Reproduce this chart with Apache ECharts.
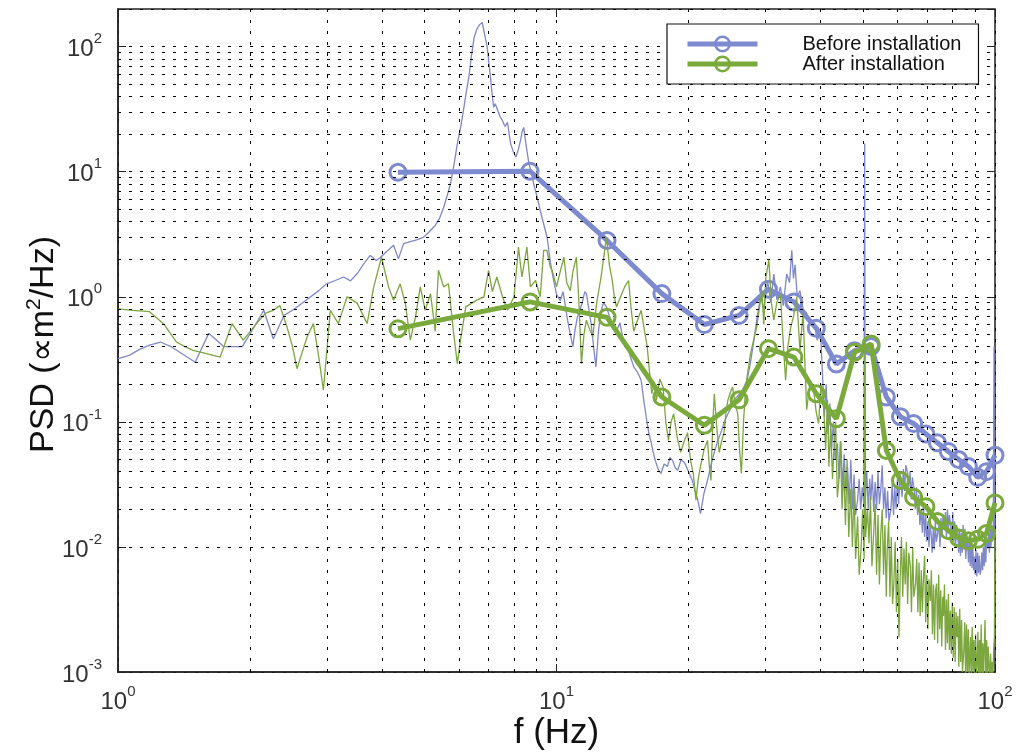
<!DOCTYPE html>
<html><head><meta charset="utf-8">
<script src="https://cdn.jsdelivr.net/npm/echarts@6/dist/echarts.min.js"></script>
<style>html,body{margin:0;padding:0;background:#fff}#c{width:1017px;height:756px}</style>
</head><body><div id="c"></div>
<script>
// ---- data ----
const bandFreq = [4.35, 8.70, 13.04, 17.39, 21.74, 26.09, 30.43, 34.78, 39.13, 43.48, 47.83, 52.17, 56.52, 60.87, 65.22, 69.57, 73.91, 78.26, 82.61, 86.96, 91.30, 95.65, 100.0];
const beforeBand = [9.9, 10.1, 2.82, 1.06, 0.60, 0.71, 1.15, 0.91, 0.56, 0.29, 0.37, 0.40, 0.158, 0.110, 0.097, 0.080, 0.068, 0.058, 0.050, 0.044, 0.036, 0.040, 0.054];
const afterBand = [0.556, 0.91, 0.685, 0.158, 0.094, 0.150, 0.385, 0.33, 0.168, 0.106, 0.36, 0.42, 0.059, 0.034, 0.025, 0.021, 0.016, 0.0135, 0.0118, 0.0112, 0.0115, 0.0128, 0.0225];

const beforeRaw = [
[1.00,0.32],[1.06,0.34],[1.12,0.38],[1.18,0.41],[1.25,0.435],[1.32,0.40],[1.40,0.35],[1.50,0.30],[1.61,0.51],[1.68,0.45],[1.74,0.40],[1.83,0.40],[1.92,0.40],[2.03,0.55],[2.15,0.78],[2.26,0.46],[2.39,0.71],[2.50,0.78],[2.62,0.88],[2.75,1.0],[2.87,1.12],[2.99,1.27],[3.13,1.35],[3.27,1.44],[3.39,1.34],[3.52,1.55],[3.64,1.85],[3.76,2.14],[3.88,1.95],[3.96,2.05],[4.10,2.3],[4.25,2.58],[4.36,2.01],[4.48,2.66],[4.62,2.75],[4.80,2.85],[4.98,3.0],[5.12,3.3],[5.29,3.72],[5.42,4.3],[5.53,5.2],[5.63,6.4],[5.73,8.0],[5.84,11.5],[5.94,16.7],[6.05,23],[6.15,32.7],[6.23,44],[6.31,56.9],[6.40,85],[6.49,119],[6.58,138],[6.68,150],[6.77,156],[6.83,134],[6.89,115],[6.95,99],[7.01,75],[7.07,57],[7.13,42],[7.19,32.7],[7.25,35],[7.31,33.8],[7.42,28],[7.53,25.6],[7.63,23],[7.73,24.8],[7.80,20],[7.86,16.7],[7.97,14.5],[8.08,13.1],[8.18,15],[8.28,17.8],[8.35,21],[8.42,22.6],[8.49,18],[8.56,14.8],[8.64,12],[8.72,10.5],[8.80,9.2],[8.87,8.0],[9.02,6.4],[9.18,4.9],[9.35,3.8],[9.52,2.98],[9.68,1.9],[9.85,1.35],[10.0,1.05],
[10.2,0.93],[10.35,1.1],[10.5,0.8],[10.6,0.65],[10.75,0.5],[10.9,0.40],[11.0,0.52],[11.15,0.68],[11.3,0.78],[11.45,0.9],[11.6,1.1],[11.7,1.06],[11.85,0.8],[12.0,0.60],[12.15,0.4],[12.3,0.275],[12.45,0.5],[12.6,0.74],[12.8,0.9],[13.0,0.83],[13.2,0.7],[13.45,0.6],[13.7,0.53],[13.95,0.62],[14.2,0.45],[14.5,0.40],[14.75,0.33],[15.0,0.275],[15.3,0.25],[15.6,0.215],[15.85,0.14],[16.1,0.097],[16.25,0.08],[16.4,0.071],[16.6,0.058],[16.8,0.049],[17.05,0.042],[17.3,0.0387],[17.6,0.046],[17.9,0.044],[18.15,0.052],[18.4,0.049],[18.65,0.043],[18.9,0.041],[19.25,0.05],[19.6,0.047],[20.0,0.04],[20.4,0.034],[20.7,0.028],[21.0,0.0237],[21.3,0.0185],[21.7,0.027],[22.1,0.034],[22.5,0.045],[22.9,0.057],[23.3,0.07],[23.7,0.082],[24.15,0.1],[24.6,0.116],[25.0,0.13],[25.4,0.15],[25.85,0.16],[26.3,0.17],[26.75,0.19],[27.2,0.215],[27.7,0.3],[28.2,0.45],[28.7,0.7],[29.2,1.0],[29.7,0.8],[30.3,1.35],[30.8,0.9],[31.3,1.52],[31.8,0.95],[32.4,1.2],[32.9,0.85],[33.5,1.52],[34.0,1.3],[34.4,2.35],[34.7,1.4],[35.0,1.8],[35.4,1.0],[35.9,1.12],[36.5,0.8],[37.2,0.74],[37.9,0.6],[38.6,0.65],[39.3,0.45],[40.0,0.53],
[40.4,0.25],[40.8,0.11],[41.2,0.2],[41.6,0.08],[42.0,0.14],[42.4,0.06],[42.8,0.1],[43.2,0.05],[43.7,0.067],[44.1,0.035],[44.5,0.07],[44.9,0.03],[45.3,0.055],[45.7,0.028],[46.1,0.044],[46.5,0.022],[46.9,0.05],[47.3,0.02],[47.7,0.038],[48.1,0.018],[48.6,0.0237],[49.0,0.035],[49.4,0.02],[49.8,0.03],[50.2,0.022],[50.45,16.8],[50.6,0.024],[51.0,0.04],[51.4,0.02],[51.8,0.035],[52.1,0.0237],[52.5,0.038],[52.9,0.019],[53.3,0.033],[53.7,0.02],[54.1,0.04],[54.5,0.022],[54.9,0.029],[55.3,0.045],[55.7,0.02],[56.1,0.03],[56.5,0.017],[56.9,0.028],[57.3,0.016],[57.9,0.02],[58.3,0.032],[58.7,0.018],[59.1,0.03],[59.5,0.02],[59.9,0.035],[60.3,0.022],[60.7,0.038],[61.0,0.032],[61.4,0.025],[61.8,0.042],[62.2,0.028],[62.6,0.045],[63.2,0.039],[63.6,0.03],[64.0,0.04],[64.4,0.024],[64.8,0.036],[65.4,0.029],[65.8,0.02],[66.2,0.03],[66.6,0.018],[67.0,0.026],[67.4,0.015],[67.9,0.02],[68.3,0.013],[68.7,0.022],[69.1,0.012],[69.5,0.018],[69.9,0.011],[70.3,0.016],[70.7,0.01],[71.1,0.015],[71.5,0.0128],[71.9,0.009],[72.3,0.014],[72.7,0.0095],[73.1,0.016],[73.5,0.011],[74.1,0.0107],[74.5,0.015],[74.9,0.01],[75.3,0.017],[75.7,0.012],[76.1,0.018],[76.7,0.0137],[77.1,0.019],[77.5,0.012],[77.9,0.02],[78.3,0.014],[78.7,0.018],[79.3,0.0175],[79.7,0.012],[80.1,0.019],[80.5,0.011],[80.9,0.016],[81.3,0.01],[81.7,0.015],[82.2,0.0137],[82.6,0.009],[83.0,0.014],[83.4,0.0085],[83.8,0.013],[84.2,0.009],[84.6,0.015],[85.0,0.0095],[85.4,0.014],[85.8,0.008],[86.2,0.012],[86.6,0.0107],[87.0,0.0075],[87.4,0.012],[87.8,0.007],[88.2,0.011],[88.6,0.0068],[89.0,0.01],[89.4,0.0065],[89.7,0.0084],[90.1,0.006],[90.5,0.0095],[90.9,0.0058],[91.3,0.009],[91.7,0.0062],[92.1,0.0085],[92.5,0.006],[92.9,0.0066],[93.3,0.009],[93.7,0.0065],[94.1,0.01],[94.5,0.007],[94.9,0.011],[95.3,0.0075],[95.7,0.012],[96.3,0.0097],[96.7,0.013],[97.1,0.009],[97.5,0.014],[97.9,0.01],[98.3,0.015],[98.7,0.011],[99.1,0.0128],[99.5,0.4],[99.7,0.012],[100.0,0.014]
];

const afterRaw = [
[1.00,0.80],[1.08,0.78],[1.18,0.76],[1.27,0.61],[1.36,0.435],[1.42,0.40],[1.485,0.373],[1.60,0.35],[1.71,0.33],[1.82,0.61],[1.93,0.45],[2.07,0.61],[2.17,0.74],[2.26,0.78],[2.34,0.85],[2.43,0.57],[2.50,0.40],[2.56,0.266],[2.70,0.48],[2.79,0.61],[2.87,0.33],[2.94,0.179],[3.05,0.78],[3.18,0.61],[3.33,1.0],[3.51,0.89],[3.70,0.61],[3.83,1.2],[3.99,2.07],[4.14,1.2],[4.25,0.94],[4.40,1.27],[4.52,0.89],[4.64,0.45],[4.77,0.69],[4.89,1.2],[5.02,0.78],[5.16,1.06],[5.29,0.53],[5.38,1.63],[5.53,1.2],[5.67,1.27],[5.82,0.53],[5.94,0.292],[6.04,0.45],[6.21,0.83],[6.41,0.89],[6.58,0.94],[6.83,1.0],[7.00,1.63],[7.14,1.1],[7.31,1.44],[7.53,1.0],[7.73,0.78],[8.00,1.0],[8.19,2.5],[8.34,1.44],[8.56,2.5],[8.72,1.2],[8.96,1.35],[9.18,1.0],[9.35,2.35],[9.51,2.35],[9.68,1.73],[9.77,1.63],[10.0,1.2],
[10.2,1.6],[10.4,2.07],[10.55,1.3],[10.75,1.12],[10.9,1.6],[11.1,2.07],[11.25,0.9],[11.4,0.292],[11.55,0.5],[11.7,0.65],[11.9,0.55],[12.1,0.48],[12.35,0.9],[12.6,1.35],[12.8,2.0],[13.0,2.98],[13.2,1.8],[13.4,1.35],[13.55,1.0],[13.7,0.83],[14.0,1.0],[14.3,1.2],[14.6,1.35],[14.8,0.8],[15.0,0.53],[15.3,0.65],[15.6,0.78],[15.85,0.55],[16.1,0.40],[16.3,0.25],[16.5,0.168],[16.7,0.2],[16.9,0.15],[17.2,0.22],[17.5,0.19],[17.75,0.1],[18.0,0.071],[18.25,0.1],[18.5,0.116],[18.85,0.075],[19.2,0.057],[19.55,0.07],[19.9,0.082],[20.2,0.05],[20.5,0.0387],[20.8,0.0237],[21.05,0.035],[21.3,0.044],[21.7,0.06],[22.1,0.071],[22.3,0.045],[22.5,0.034],[22.7,0.09],[22.9,0.168],[23.2,0.09],[23.5,0.057],[23.8,0.07],[24.1,0.082],[24.35,0.12],[24.6,0.15],[24.9,0.17],[25.2,0.19],[25.55,0.14],[25.9,0.116],[26.15,0.06],[26.4,0.0387],[26.7,0.1],[27.0,0.19],[27.35,0.26],[27.7,0.35],[28.15,0.45],[28.6,0.57],[29.0,0.8],[29.4,1.12],[29.7,0.6],[30.0,1.4],[30.5,1.97],[30.9,0.9],[31.3,0.65],[31.8,0.9],[32.4,1.06],[32.8,0.5],[33.3,0.215],[33.7,0.4],[34.2,0.57],[34.7,0.69],[35.3,1.0],[35.9,0.373],[36.5,0.74],[37.2,0.125],[37.8,0.2],[38.6,0.178],[39.1,0.12],[39.6,0.097],[40.1,0.2],
[40.7,0.125],[41.1,0.06],[41.5,0.15],[41.8,0.044],[42.2,0.09],[42.6,0.035],[42.9,0.059],[43.3,0.1],[43.7,0.025],[44.0,0.032],[44.4,0.07],[44.8,0.02],[45.2,0.044],[45.6,0.015],[46.0,0.05],[46.4,0.012],[46.9,0.029],[47.3,0.01],[47.7,0.03],[48.1,0.008],[48.6,0.0175],[49.0,0.006],[49.5,0.0097],[49.9,0.02],[50.3,0.008],[50.5,0.42],[50.7,0.012],[51.2,0.02],[51.6,0.0107],[52.0,0.025],[52.4,0.007],[52.9,0.007],[53.3,0.022],[53.7,0.006],[54.1,0.018],[54.5,0.005],[54.9,0.0128],[55.3,0.02],[55.7,0.006],[56.1,0.015],[56.5,0.004],[56.8,0.0097],[57.2,0.016],[57.6,0.004],[58.0,0.012],[58.4,0.0035],[58.8,0.0051],[59.2,0.011],[59.6,0.003],[60.0,0.008],[60.4,0.0019],[60.8,0.006],[61.2,0.012],[61.6,0.004],[62.0,0.0097],[62.4,0.005],[62.8,0.011],[63.2,0.0035],[63.6,0.009],[64.1,0.007],[64.5,0.003],[64.9,0.01],[65.3,0.004],[65.9,0.0051],[66.3,0.008],[66.7,0.003],[67.1,0.0075],[67.5,0.0028],[67.9,0.0065],[68.3,0.003],[68.7,0.0058],[69.1,0.0085],[69.5,0.0025],[69.9,0.006],[70.3,0.0022],[70.7,0.0055],[71.2,0.0037],[71.6,0.0065],[72.0,0.002],[72.4,0.005],[72.8,0.0018],[73.2,0.0045],[73.6,0.0051],[74.0,0.0017],[74.4,0.006],[74.8,0.0022],[75.2,0.0045],[75.6,0.0016],[76.0,0.004],[76.3,0.0028],[76.7,0.005],[77.1,0.0015],[77.5,0.0038],[77.9,0.0017],[78.3,0.0042],[78.7,0.0015],[79.1,0.0031],[79.5,0.0014],[79.9,0.0036],[80.3,0.0013],[80.7,0.0033],[81.1,0.0012],[81.5,0.003],[81.9,0.0019],[82.3,0.0028],[82.7,0.0011],[83.1,0.0032],[83.5,0.0012],[83.9,0.0026],[84.3,0.001],[84.9,0.0015],[85.3,0.0025],[85.7,0.0009],[86.1,0.0024],[86.5,0.001],[86.9,0.0022],[87.3,0.0009],[87.9,0.0019],[88.3,0.0009],[88.7,0.0023],[89.1,0.001],[89.5,0.0018],[89.9,0.0009],[90.3,0.002],[90.7,0.0009],[91.0,0.0011],[91.4,0.0021],[91.8,0.0009],[92.2,0.0018],[92.6,0.0009],[93.0,0.0024],[93.4,0.0009],[93.8,0.0017],[94.2,0.0009],[94.5,0.0015],[94.9,0.0026],[95.3,0.0009],[95.7,0.0018],[96.1,0.0009],[96.5,0.0016],[96.9,0.0011],[97.3,0.0009],[97.7,0.0014],[98.1,0.0009],[98.5,0.0012],[98.9,0.0009],[99.3,0.0015],[99.7,0.0019],[99.85,0.0045],[100.0,0.012]
];

const freqMinorTicks = [2,3,4,5,6,7,8,9,20,30,40,50,60,70,80,90];
const psdMinorTicks = [0.002,0.003,0.004,0.005,0.006,0.007,0.008,0.009,0.02,0.03,0.04,0.05,0.06,0.07,0.08,0.09,0.2,0.3,0.4,0.5,0.6,0.7,0.8,0.9,2,3,4,5,6,7,8,9,20,30,40,50,60,70,80,90];
const legendNames = ['Before installation', 'After installation'];

// ---- chart ----
const FONT = 'Liberation Sans, Arial, Helvetica, sans-serif';
const BLUE = '#7d8ad0';
const BLUE_RAW = '#7f88c8';
const GREEN = '#79aa3b';
const GREEN_RAW = '#7ca63e';
const GRID_STYLE = {color: '#000', width: 1, type: [3, 8]};

function powLabel(v) {
  const l = Math.log10(v);
  const e = Math.round(l);
  if (Math.abs(l - e) > 1e-6) return '';
  return '{b|10}{s|' + e + '}';
}
const labelRich = {
  b: {fontSize: 24, lineHeight: 30, color: '#333', fontFamily: FONT, verticalAlign: 'bottom'},
  s: {fontSize: 15, lineHeight: 15, color: '#333', fontFamily: FONT, verticalAlign: 'top'}
};

const chart = echarts.init(document.getElementById('c'), null, {renderer: 'canvas'});
chart.setOption({
  animation: false,
  backgroundColor: '#fff',
  grid: {left: 118, right: 22, top: 9, bottom: 84, show: true, borderColor: '#222', borderWidth: 1.5, backgroundColor: '#fff'},
  legend: {
    data: legendNames, orient: 'vertical', left: 667, top: 24, z: 100,
    padding: [10, 17, 10, 18], itemGap: 0, itemWidth: 70, itemHeight: 18,
    backgroundColor: '#fff', borderColor: '#111', borderWidth: 1.2, borderRadius: 0,
    lineStyle: {width: 5}, itemStyle: {borderWidth: 2.5},
    textStyle: {fontSize: 20, lineHeight: 18, color: '#111', fontFamily: FONT, padding: [0, 0, 0, 40]}
  },
  xAxis: [{
    type: 'log', logBase: 10, min: 1, max: 100,
    axisLine: {show: true, lineStyle: {color: '#222', width: 1.5}},
    axisTick: {show: true, inside: true, length: 8, lineStyle: {color: '#222'}},
    axisLabel: {formatter: powLabel, rich: labelRich, margin: 12},
    splitLine: {show: true, lineStyle: GRID_STYLE},
    name: 'f (Hz)', nameLocation: 'middle', nameGap: 44, nameMoveOverlap: false,
    nameTextStyle: {fontSize: 35, color: '#111', fontFamily: FONT}
  }, {
    type: 'log', logBase: 10, min: 1, max: 100, position: 'top',
    axisLine: {show: false}, axisLabel: {show: false}, splitLine: {show: false},
    axisTick: {show: true, inside: true, length: 8, lineStyle: {color: '#222'}}
  }],
  yAxis: [{
    type: 'log', logBase: 10, min: 0.001, max: 200,
    axisLine: {show: true, lineStyle: {color: '#222', width: 1.5}},
    axisTick: {show: true, inside: true, length: 8, lineStyle: {color: '#222'}},
    axisLabel: {formatter: powLabel, rich: labelRich, margin: 16},
    splitLine: {show: true, lineStyle: GRID_STYLE},
    name: 'PSD (\u221Dm{sup|2}/Hz)', nameLocation: 'middle', nameGap: 54, nameRotate: 90, nameMoveOverlap: false,
    nameTextStyle: {fontSize: 34, color: '#111', fontFamily: FONT, lineHeight: 40, padding: [0, 8, 0, 0],
      rich: {sup: {fontSize: 21, lineHeight: 20, color: '#111', fontFamily: FONT, verticalAlign: 'top'}}}
  }, {
    type: 'log', logBase: 10, min: 0.001, max: 200, position: 'right',
    axisLine: {show: false}, axisLabel: {show: false}, splitLine: {show: false},
    axisTick: {show: true, inside: true, length: 8, lineStyle: {color: '#222'}}
  }],
  series: [
    {
      name: 'grid', type: 'line', data: [], silent: true, z: 1,
      markLine: {
        silent: true, symbol: ['none', 'none'], label: {show: false}, animation: false,
        lineStyle: GRID_STYLE, emphasis: {disabled: true},
        data: freqMinorTicks.map(v => ({xAxis: v})).concat(psdMinorTicks.map(v => ({yAxis: v})))
      }
    },
    {
      name: 'Before raw', type: 'line', data: beforeRaw, showSymbol: false, symbol: 'none', z: 2,
      lineStyle: {color: BLUE_RAW, width: 1.3}, itemStyle: {color: BLUE_RAW}, silent: true, clip: true
    },
    {
      name: legendNames[0], type: 'line', z: 3, silent: true, clip: true,
      data: bandFreq.map((f, i) => [f, beforeBand[i]]),
      symbol: 'circle', symbolSize: 16, showSymbol: true,
      lineStyle: {color: BLUE, width: 5},
      itemStyle: {color: 'rgba(255,255,255,0)', borderColor: BLUE, borderWidth: 3}
    },
    {
      name: 'After raw', type: 'line', data: afterRaw, showSymbol: false, symbol: 'none', z: 4,
      lineStyle: {color: GREEN_RAW, width: 1.3}, itemStyle: {color: GREEN_RAW}, silent: true, clip: true
    },
    {
      name: legendNames[1], type: 'line', z: 5, silent: true, clip: true,
      data: bandFreq.map((f, i) => [f, afterBand[i]]),
      symbol: 'circle', symbolSize: 16, showSymbol: true,
      lineStyle: {color: GREEN, width: 5},
      itemStyle: {color: 'rgba(255,255,255,0)', borderColor: GREEN, borderWidth: 3}
    }
  ]
});
</script>
</body></html>
